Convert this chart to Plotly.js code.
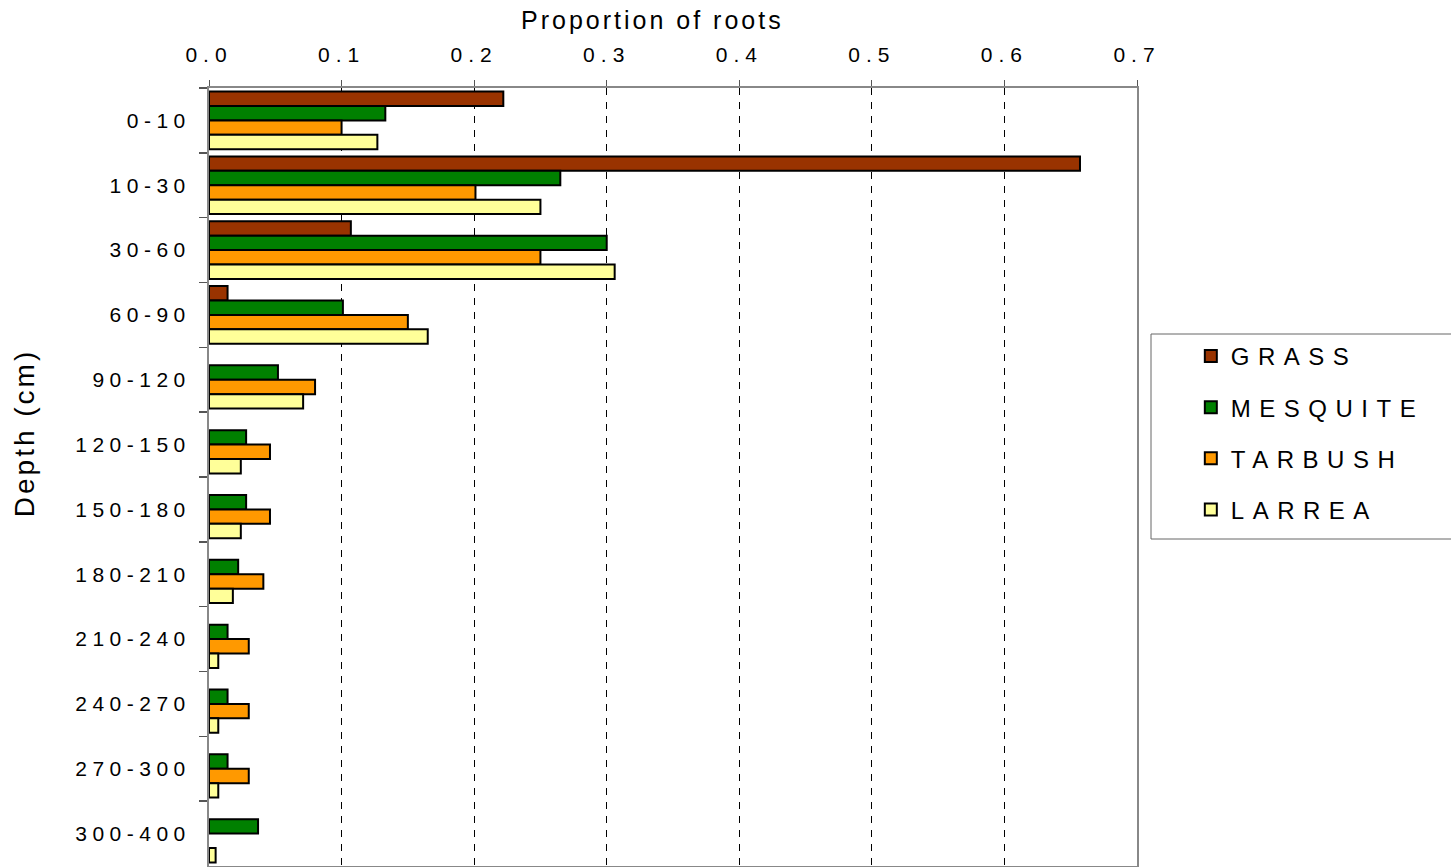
<!DOCTYPE html>
<html>
<head>
<meta charset="utf-8">
<script src="https://cdn.plot.ly/plotly-3.0.1.min.js"></script>
<style>
html,body{margin:0;padding:0;background:#fff;}
#chart{width:1451px;height:867px;}
g.ytick text{letter-spacing:5.5px;}
g.xtick text{letter-spacing:6px;}
.legendtext{letter-spacing:8.5px;}
.annotation-text{letter-spacing:3px;}
</style>
</head>
<body>
<div id="chart"></div>
<script>
const depths = ["0-10","10-30","30-60","60-90","90-120","120-150","150-180","180-210","210-240","240-270","270-300","300-400"];
const seriesNames = ["GRASS","MESQUITE","TARBUSH","LARREA"];
const grass    = [0.222, 0.657, 0.107, 0.014, null, null, null, null, null, null, null, null];
const mesquite = [0.133, 0.265, 0.300, 0.101, 0.052, 0.028, 0.028, 0.022, 0.014, 0.014, 0.014, 0.037];
const tarbush  = [0.100, 0.201, 0.250, 0.150, 0.080, 0.046, 0.046, 0.041, 0.030, 0.030, 0.030, null];
const larrea   = [0.127, 0.250, 0.306, 0.165, 0.071, 0.024, 0.024, 0.018, 0.007, 0.007, 0.007, 0.005];
const colors = ["#993300","#008000","#FF9900","#FFFF99"];
const xTicks = [0,0.1,0.2,0.3,0.4,0.5,0.6,0.7];
const xTickText = ["0.0","0.1","0.2","0.3","0.4","0.5","0.6","0.7"];
const xTitle = "Proportion of roots";
const yTitle = "Depth (cm)";

const values = [grass, mesquite, tarbush, larrea];
const traces = seriesNames.map((n,i)=>({
  type:"bar", orientation:"h", name:n, y:depths, x:values[i],
  legendgroup:"g"+i,
  marker:{color:colors[i], line:{color:"#000", width:2}},
  hoverinfo:"x+y+name"
}));

const font = "Liberation Sans, Arial, sans-serif";
const layout = {
  width:1451, height:867,
  margin:{l:209, r:314, t:88, b:1, pad:0},
  paper_bgcolor:"#fff", plot_bgcolor:"#fff",
  barmode:"group", bargap:0.11, bargroupgap:0,
  font:{family:font, color:"#000"},
  xaxis:{
    side:"top", range:[0,0.7], tickvals:xTicks, ticktext:xTickText,
    tickfont:{size:21, family:font}, ticks:"outside", ticklen:6, tickcolor:"#555",
    ticklabelstandoff:10,
    showgrid:true, gridcolor:"#000", griddash:"7px,7px", gridwidth:1,
    showline:true, linecolor:"#888", linewidth:2, mirror:true, zeroline:false
  },
  yaxis:{
    type:"category", range:[11.5,-0.5], tickson:"boundaries",
    ticks:"outside", ticklen:8, tickcolor:"#555", tickwidth:1.5,
    tickfont:{size:21, family:font}, ticklabelstandoff:12,
    showline:true, linecolor:"#888", linewidth:2, mirror:true, showgrid:false, zeroline:false
  },
  annotations:[
    {text:xTitle, xref:"paper", yref:"paper", x:0.478, y:1.0874, xanchor:"center", yanchor:"middle",
     showarrow:false, font:{size:25, family:font}},
    {text:yTitle, xref:"paper", yref:"paper", x:-0.198, y:0.5566, xanchor:"center", yanchor:"middle",
     textangle:-90, showarrow:false, font:{size:28, family:font}}
  ],
  legend:{
    x:1.058, xanchor:"left", y:0.684, yanchor:"top",
    borderwidth:0, bgcolor:"rgba(0,0,0,0)",
    font:{size:24, family:font}, traceorder:"grouped", tracegroupgap:17,
    itemwidth:30
  },
  shapes:[{
    type:"rect", xref:"paper", yref:"paper",
    x0:1.0151, x1:1.34, y0:0.4203, y1:0.6838,
    line:{color:"#666", width:1}, fillcolor:"rgba(0,0,0,0)", layer:"below"
  }],
  showlegend:true
};
Plotly.newPlot("chart", traces, layout, {displayModeBar:false, staticPlot:true});
</script>
</body>
</html>
